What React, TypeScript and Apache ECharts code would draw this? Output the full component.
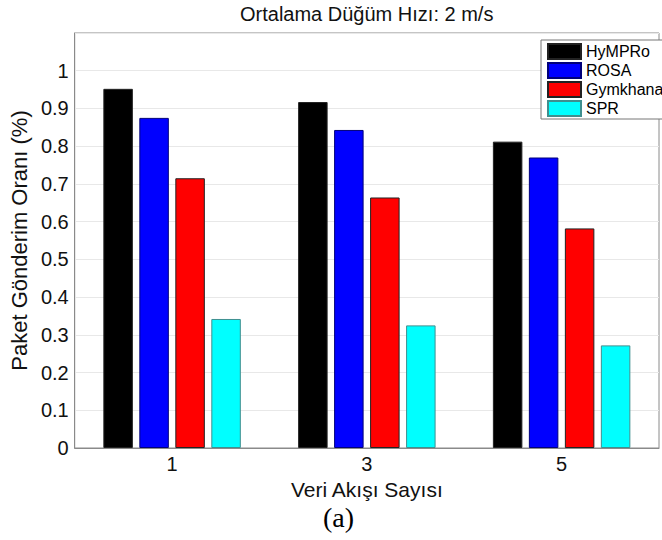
import React, { useEffect, useRef } from "react";
import * as echarts from "echarts";

const flows = [1, 3, 5];
const seriesNames = ["HyMPRo", "ROSA", "Gymkhana", "SPR"];
const hymproValues = [0.952, 0.917, 0.812];
const rosaValues = [0.875, 0.843, 0.77];
const gymkhanaValues = [0.715, 0.664, 0.582];
const sprValues = [0.342, 0.325, 0.272];
const seriesColors = ["#000000", "#0000ff", "#ff0000", "#00ffff"];
const titleText = "Ortalama Düğüm Hızı: 2 m/s";
const xName = "Veri Akışı Sayısı";
const yName = "Paket Gönderim Oranı (%)";
const captionText = "(a)";

const FONT = "'Liberation Sans', Arial, Helvetica, sans-serif";

export default function App() {
  const ref = useRef<HTMLDivElement>(null);

  useEffect(() => {
    if (!ref.current) return;
    const chart = echarts.init(ref.current, undefined, { renderer: "svg" });
    const allValues = [hymproValues, rosaValues, gymkhanaValues, sprValues];
    const series = seriesNames.map((name, si) => ({
      name,
      type: "bar" as const,
      data: flows.map((x, i) => [x, allValues[si][i]]),
      barWidth: 29.5,
      barGap: "22%",
      itemStyle: {
        color: seriesColors[si],
        borderColor: si === 3 ? "#3f8f8f" : si === 1 ? "#00007a" : "#222",
        borderWidth: 1,
      },
    }));

    chart.setOption({
      animation: false,
      backgroundColor: "#ffffff",
      grid: {
        left: 71,
        top: 33,
        width: 600,
        height: 415,
        show: true,
        borderColor: "#8a8a8a",
        borderWidth: 1,
        backgroundColor: "transparent",
      },
      legend: {
        orient: "vertical",
        left: 541,
        top: 40,
        icon: "rect",
        itemWidth: 33,
        itemHeight: 15,
        itemGap: 2,
        padding: [3, 30, 2, 6],
        backgroundColor: "#ffffff",
        borderColor: "#777777",
        borderWidth: 1,
        borderRadius: 0,
        textStyle: { fontSize: 16, color: "#000", fontFamily: FONT },
        data: seriesNames,
      },
      graphic: [
        {
          type: "text",
          left: 370 - 130,
          top: 4,
          style: {
            text: titleText,
            fontSize: 20,
            fontFamily: FONT,
            fill: "#111",
          },
        },
        {
          type: "text",
          left: 323,
          top: 503,
          style: {
            text: captionText,
            fontSize: 28,
            fontFamily: "'Liberation Serif', 'Times New Roman', serif",
            fill: "#000",
          },
        },
      ],
      xAxis: {
        type: "value",
        min: 0,
        max: 6,
        interval: 1,
        name: xName,
        nameLocation: "middle",
        nameGap: 23,
        nameTextStyle: { fontSize: 21, color: "#111", fontFamily: FONT },
        axisLine: { show: true, lineStyle: { color: "#8a8a8a", width: 1 } },
        axisTick: { show: false },
        splitLine: { show: false },
        axisLabel: {
          fontSize: 20,
          color: "#111",
          fontFamily: FONT,
          margin: 6,
          formatter: (v: number) => (flows.includes(v) ? String(v) : ""),
        },
      },
      yAxis: {
        type: "value",
        min: 0,
        max: 1.1,
        interval: 0.1,
        name: yName,
        nameLocation: "middle",
        nameGap: 38,
        nameTextStyle: { fontSize: 22, color: "#111", fontFamily: FONT },
        axisLine: { show: true, lineStyle: { color: "#8a8a8a", width: 1 } },
        axisTick: { show: false },
        splitLine: { show: true, lineStyle: { color: "#e8e8e8", width: 1 } },
        axisLabel: {
          fontSize: 20,
          color: "#111",
          fontFamily: FONT,
          margin: 6,
          formatter: (v: number) => (v > 1.05 ? "" : String(Number(v.toFixed(1)))),
        },
      },
      series,
    });
    return () => chart.dispose();
  }, []);

  return (
    <div
      ref={ref}
      style={{ position: "absolute", left: 0, top: 0, width: 662, height: 540 }}
    />
  );
}
